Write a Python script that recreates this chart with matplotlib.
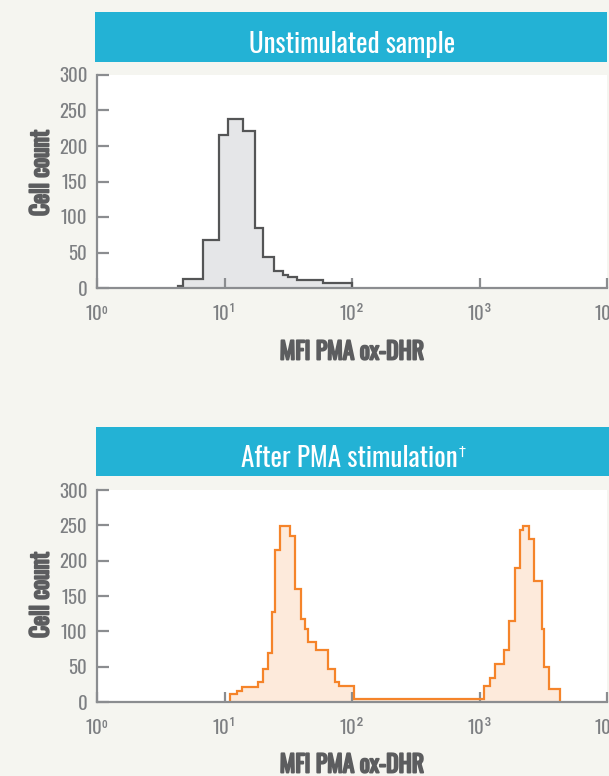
import matplotlib
matplotlib.use("Agg")
import matplotlib.pyplot as plt
from matplotlib.patches import Rectangle
from matplotlib.text import Annotation
import matplotlib.patheffects as pe

FONT = ["Oswald", "Roboto Condensed", "Liberation Sans Narrow", "DejaVu Sans"]
plt.rcParams["font.family"] = FONT

# ---------------- data ----------------
unstim_edges = [4.34, 4.75, 6.75, 9.05, 10.7, 14.0, 17.3, 20.1, 24.4, 28.9, 31.7, 36.8, 59.6, 99.5]
unstim_counts = [3, 13, 67, 216, 238, 221, 85, 43, 24, 19, 15, 11, 7]

pma_edges = [11.1, 12.5, 13.7, 18.2, 20.2, 21.8, 23.4, 25.0, 27.3, 32.5, 35.9, 39.8, 42.8,
             45.4, 52.1, 65.0, 73.7, 79.6, 103.1, 1082, 1211, 1333, 1550, 1714, 1889,
             2066, 2204, 2427, 2685, 3067, 3178, 3477, 4258]
pma_counts = [12, 16, 21, 29, 47, 70, 128, 215, 249, 235, 160, 118, 103, 85, 73, 47, 29,
              23, 4, 22, 34, 54, 73, 114, 190, 243, 249, 231, 171, 103, 50, 19]

titles = ["Unstimulated sample", "After PMA stimulation"]
title_marks = ["", "\u2020"]
xlabel = "MFI PMA ox-DHR"
ylabel = "Cell count"
xticks = [1, 10, 100, 1000, 10000]
xticklabels = ["10\u2070", "10\u00b9", "10\u00b2", "10\u00b3", "10\u2074"]
yticks = [0, 50, 100, 150, 200, 250, 300]

# ---------------- style ----------------
W, H = 609, 776
BG = "#f5f5f0"
BANNER = "#23b2d5"
SPINE = "#8b8d90"
TICKLBL = "#7d7f82"
LABEL = "#5c5d5f"

fig = plt.figure(figsize=(W / 100, H / 100), dpi=100, facecolor=BG)

def fx(px):
    return px / W

def fy(py):
    return 1 - py / H

panels = [
    dict(edges=unstim_edges, counts=unstim_counts, fill="#e5e6e8", edge="#545556",
         ax_top=75, ax_bot=288, ban_top=12, ban_bot=62, ban_left=95, ban_right=607,
         ylab_y=173, xlab_y=352, title_x=352),
    dict(edges=pma_edges, counts=pma_counts, fill="#fdeadb", edge="#f5842a",
         ax_top=490, ax_bot=702, ban_top=427, ban_bot=476, ban_left=96, ban_right=609,
         ylab_y=595, xlab_y=765, title_x=349),
]

bold = [pe.withStroke(linewidth=1.4, foreground=LABEL)]

for i, p in enumerate(panels):
    # banner
    fig.patches.append(Rectangle((fx(p["ban_left"]), fy(p["ban_bot"])),
                                 fx(p["ban_right"] - p["ban_left"]),
                                 (p["ban_bot"] - p["ban_top"]) / H,
                                 transform=fig.transFigure, facecolor=BANNER,
                                 edgecolor="none", zorder=0))
    t = fig.text(fx(p["title_x"]), fy(p["ban_bot"] - 9), titles[i],
                 ha="center", va="baseline", color="white", fontsize=19.5, family=FONT)
    if title_marks[i]:
        a = Annotation(title_marks[i], xy=(1.0, 1.0), xycoords=t, xytext=(1, 0),
                       textcoords="offset points", ha="left", va="top",
                       color="white", fontsize=10, family=["DejaVu Sans"])
        fig.add_artist(a)

    ax = fig.add_axes([fx(97), fy(p["ax_bot"]), fx(607 - 97),
                       (p["ax_bot"] - p["ax_top"]) / H])
    ax.set_facecolor("white")
    ax.stairs(p["counts"], p["edges"], fill=True, color=p["fill"], zorder=1)
    ax.stairs(p["counts"], p["edges"], fill=False, color=p["edge"], lw=1.6, zorder=2,
              baseline=0)
    ax.set_xscale("log")
    ax.set_xlim(1, 10000)
    ax.set_ylim(0, 300)
    ax.set_xticks(xticks)
    ax.set_xticklabels(xticklabels)
    ax.minorticks_off()
    ax.set_yticks(yticks)
    for s in ["top", "right"]:
        ax.spines[s].set_visible(False)
    for s in ["left", "bottom"]:
        ax.spines[s].set_color(SPINE)
        ax.spines[s].set_linewidth(1.6)
    ax.tick_params(axis="x", direction="in", length=7.5, width=1.6, color=SPINE,
                   labelcolor=TICKLBL, labelsize=13.5, pad=12)
    ax.tick_params(axis="y", direction="in", length=8.5, width=1.6, color=SPINE,
                   labelcolor=TICKLBL, labelsize=13.5, pad=7)

    fig.text(fx(41), fy(p["ylab_y"]), ylabel, rotation=90, ha="center", va="center",
             color=LABEL, fontsize=17, family=FONT, path_effects=bold)
    fig.text(fx(352), fy(p["xlab_y"]), xlabel, ha="center", va="center",
             color=LABEL, fontsize=17, family=FONT, path_effects=bold)

fig.savefig("out.png", dpi=100, facecolor=BG)
